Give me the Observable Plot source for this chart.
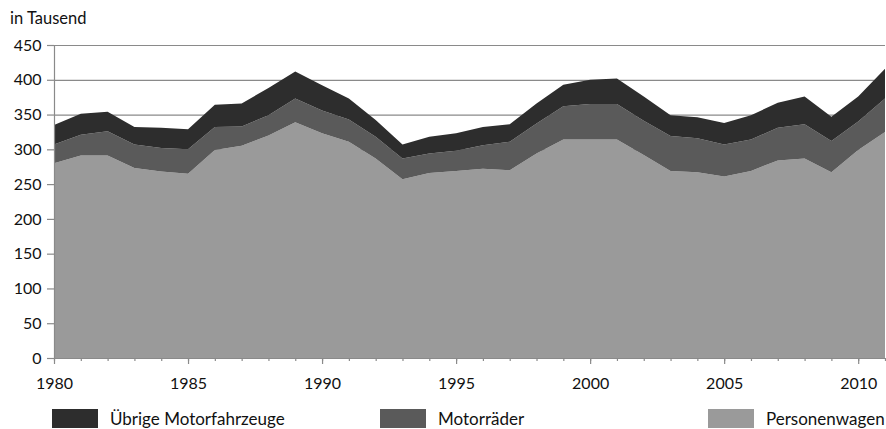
<!DOCTYPE html>
<html>
<head>
<meta charset="utf-8">
<script src="https://cdn.jsdelivr.net/npm/d3@7"></script>
<script src="https://cdn.jsdelivr.net/npm/@observablehq/plot@0.6"></script>
<style>
  body { margin: 0; background: #fff; font-family: Lato, "Open Sans", sans-serif; }
  #wrap { position: relative; width: 886px; height: 429px; }
  #title { position: absolute; left: 10px; top: 8px; font-size: 16.5px; color: #111; line-height: 20px; }
  #chart { position: absolute; left: 0; top: 30px; }
  .leg { position: absolute; top: 409px; height: 19px; display: flex; align-items: center; font-size: 17px; color: #111; }
  .sw { width: 46px; height: 19px; margin-right: 12px; }
  #chart svg [aria-label="x-axis tick"] path, #chart svg [aria-label="y-axis tick"] path { stroke: #8a8a8a; stroke-width: 1.2; }
</style>
</head>
<body>
<div id="wrap">
  <div id="title">in Tausend</div>
  <div id="chart"></div>
  <div id="legend"></div>
</div>
<script>
const years = [1980,1981,1982,1983,1984,1985,1986,1987,1988,1989,1990,1991,1992,1993,1994,1995,1996,1997,1998,1999,2000,2001,2002,2003,2004,2005,2006,2007,2008,2009,2010,2011];
const yearLabels = [1980,1985,1990,1995,2000,2005,2010];
const personenwagen = [280,291,291,273,268,265,299,305,320,339,323,311,287,257,266,269,272,270,294,314,314,314,292,269,267,261,269,284,287,267,299,325];
const motorraeder   = [27,30,35,34,34,35,33,28,29,34,33,32,31,30,28,29,34,41,43,48,51,51,49,50,49,46,45,47,49,45,41,48];
const uebrige       = [28,30,28,25,29,29,32,33,39,39,36,30,24,20,24,25,26,25,29,31,35,37,35,30,30,31,35,36,40,35,36,43];
const seriesNames = ["Personenwagen", "Motorräder", "Übrige Motorfahrzeuge"];
const seriesColors = ["#9a9a9a", "#5a5a5a", "#2d2d2d"];
const yTicks = [0,50,100,150,200,250,300,350,400,450];
const legendOrder = ["Übrige Motorfahrzeuge", "Motorräder", "Personenwagen"];
const legendX = [52, 380, 708];

const seriesValues = [personenwagen, motorraeder, uebrige];
const data = [];
seriesNames.forEach((name, si) => {
  years.forEach((yr, i) => data.push({year: yr, series: name, value: seriesValues[si][i]}));
});

const baseMarks = [
  Plot.ruleY(yTicks.filter(d => d > 0), {stroke: "#8a8a8a", strokeWidth: 1.2}),
  Plot.areaY(data, {x: "year", y: "value", fill: "series", order: seriesNames}),
  Plot.ruleY([0], {stroke: "#8a8a8a", strokeWidth: 1.2}),
  Plot.ruleX([1980], {stroke: "#8a8a8a", strokeWidth: 1.2})
];

const common = {
  width: 886,
  height: 370,
  marginLeft: 54,
  marginRight: 1,
  marginTop: 15,
  marginBottom: 42,
  style: {fontSize: "16px", fontFamily: "Lato, 'Open Sans', sans-serif", color: "#111", background: "transparent"},
  color: {domain: seriesNames, range: seriesColors}
};

let chart;
if (typeof Plot.axisX === "function") {
  chart = Plot.plot({
    ...common,
    x: {domain: [1980, 2011], label: null},
    y: {domain: [0, 450], label: null},
    marks: [
      ...baseMarks,
      Plot.axisX({ticks: years, tickSize: 3, tickFormat: () => "", label: null}),
      Plot.axisX({ticks: yearLabels, tickSize: 6, tickPadding: 13, tickFormat: d => String(d), label: null}),
      Plot.axisY({ticks: yTicks, tickSize: 7, tickPadding: 6, label: null})
    ]
  });
} else {
  chart = Plot.plot({
    ...common,
    x: {domain: [1980, 2011], ticks: years, tickFormat: d => d % 5 === 0 ? String(d) : "", tickSize: 5, tickPadding: 14, label: null},
    y: {domain: [0, 450], ticks: yTicks, tickSize: 7, tickPadding: 6, label: null},
    marks: baseMarks
  });
}
document.getElementById("chart").appendChild(chart);

const legend = document.getElementById("legend");
legendOrder.forEach((name, i) => {
  const item = document.createElement("div");
  item.className = "leg";
  item.style.left = legendX[i] + "px";
  const sw = document.createElement("div");
  sw.className = "sw";
  sw.style.background = seriesColors[seriesNames.indexOf(name)];
  const tx = document.createElement("span");
  tx.textContent = name;
  item.appendChild(sw);
  item.appendChild(tx);
  legend.appendChild(item);
});
</script>
</body>
</html>
